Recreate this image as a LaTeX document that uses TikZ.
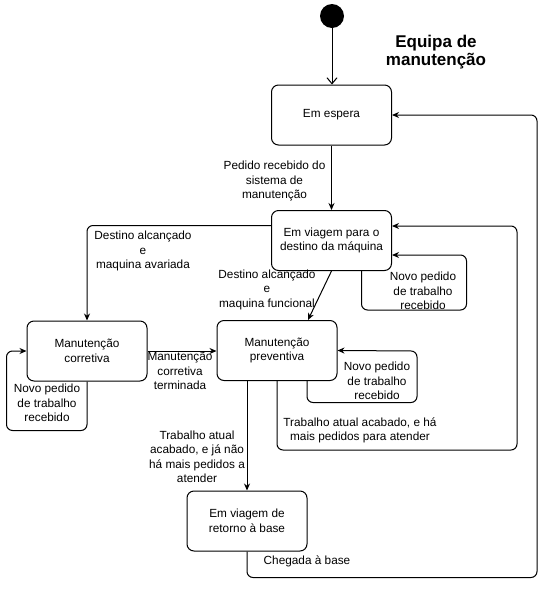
\documentclass[tikz,border=0pt]{standalone}
\usepackage{fontspec}
\setmainfont{Liberation Sans}
\usetikzlibrary{arrows.meta,calc}
\begin{document}
\begin{tikzpicture}[x=1pt,y=-1pt,
  state/.style={draw, line width=1pt, rounded corners=7pt, minimum width=120pt, minimum height=60pt, align=center, font=\fontsize{11.8}{14.5}\selectfont, inner sep=0pt},
  lbl/.style={align=center, font=\fontsize{11.8}{14.5}\selectfont, inner sep=0pt},
  conn/.style={draw, line width=1pt, rounded corners=6pt, -{Stealth[length=7pt,width=6pt]}},
]
\useasboundingbox (0,0) rectangle (547,590);
\node[circle, fill=black, minimum size=24pt, inner sep=0pt] (init) at (332,16) {};
\node[font=\fontsize{17}{18.5}\selectfont\bfseries, align=center, inner sep=0pt] (title) at (436,52) {Equipa de\\manutenção};
\node[state] (esp) at (331.5,115) {Em espera};
\node[state] (viag) at (331.5,240.5) {Em viagem para o\\destino da máquina};
\node[state] (prev) at (277,350.5) {Manutenção\\preventiva};
\node[state] (corr) at (87,351) {Manutenção\\corretiva};
\node[state] (ret) at (247,521) {Em viagem de\\retorno à base};

\draw[line width=1pt, -{Straight Barb[length=6pt,width=10pt]}] (init.south) -- (init.south |- esp.north);

\draw[conn] (esp) -- (viag);
\node[lbl] (l1) at (274.5,181) {Pedido recebido do\\sistema de\\manutenção};

\draw[conn] ($(viag.west)+(0,-15)$) -| (corr.north);
\node[lbl] (l2) at (143,251) {Destino alcançado\\e\\maquina avariada};

\draw[conn] (viag.south) -- ($(prev.north)+(31,0)$);
\node[lbl] (l3) at (267,289.5) {Destino alcançado\\e\\maquina funcional};

\draw[conn] ($(viag.south)+(30,0)$) -- ++(0,39) -- ++(105,0) -- ++(0,-55) -- ($(viag.east)+(0,14.5)$);
\node[lbl] (l4) at (423,291) {Novo pedido\\de trabalho\\recebido};

\draw[conn] ($(prev.south)+(30,0)$) -- ++(0,21.5) -- ++(110,0) -- ++(0,-51.5) -- (prev.east);
\node[lbl] (l5) at (377,381) {Novo pedido\\de trabalho\\recebido};

\draw[conn] (prev.south) |- ++(240,69) |- ($(viag.east)+(0,-14.5)$);
\node[lbl] (l6) at (360,430.5) {Trabalho atual acabado, e há\\mais pedidos para atender};

\draw[conn] (corr.east) -- (corr.east -| prev.west);
\node[lbl] (l7) at (180,371) {Manutenção\\corretiva\\terminada};

\draw[conn] (corr.south) -- ++(0,49) -| ($(corr.west)+(-20,0)$) -- (corr.west);
\node[lbl] (l8) at (47,403) {Novo pedido\\de trabalho\\recebido};

\draw[conn] (ret.north |- prev.south) -- (ret.north);
\node[lbl] (l9) at (197,457) {Trabalho atual\\acabado, e já não\\há mais pedidos a\\atender};

\draw[conn] (ret.south) |- ++(290,26) |- (esp.east);
\node[lbl] (l10) at (307,561) {Chegada à base};
\end{tikzpicture}
\end{document}
